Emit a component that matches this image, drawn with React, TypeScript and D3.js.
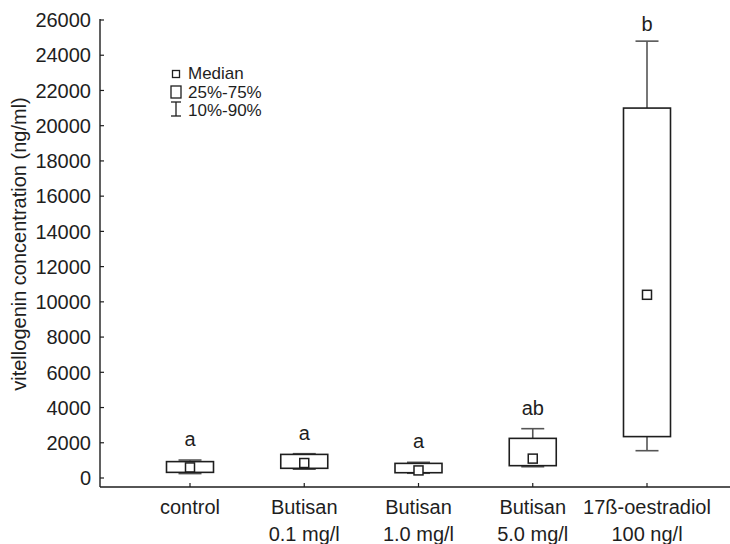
import { useMemo } from "react"
import * as d3 from "d3"

// groups on the x axis (two-line labels)
const groups = ["control", "Butisan 0.1", "Butisan 1.0", "Butisan 5.0", "17ß-oestradiol"]
const labelLine1 = ["control", "Butisan", "Butisan", "Butisan", "17ß-oestradiol"]
const labelLine2 = ["", "0.1 mg/l", "1.0 mg/l", "5.0 mg/l", "100 ng/l"]

// box statistics (ng/ml)
const p10 = [250, 500, 270, 640, 1550]
const q1 = [320, 550, 300, 700, 2350]
const median = [600, 850, 430, 1100, 10400]
const q3 = [930, 1340, 830, 2250, 21000]
const p90 = [1020, 1380, 890, 2800, 24800]
const letters = ["a", "a", "a", "ab", "b"]

const yTicks = d3.range(0, 26001, 2000)

const W = 730
const H = 544
const FONT = "'Liberation Sans', Arial, Helvetica, sans-serif"
const INK = "#1e1e1e"
const WHISK = "#555"

export default function App() {
  const x = useMemo(() => d3.scalePoint<string>().domain(groups).range([190, 647]), [])
  const y = useMemo(() => d3.scaleLinear().domain([0, 26000]).range([478, 20]), [])

  const axisX = 100
  const axisY = 487
  const boxW = 47
  const capW = 23
  const med = 9
  const fs = 20

  return (
    <svg
      width={W}
      height={H}
      style={{ position: "absolute", left: 0, top: 0, background: "#fff" }}
      fontFamily={FONT}
    >
      {/* axes */}
      <line x1={axisX} x2={axisX} y1={y(26000) - 1} y2={axisY} stroke={INK} strokeWidth={1.4} />
      <line x1={axisX} x2={W} y1={axisY} y2={axisY} stroke={INK} strokeWidth={1.4} />

      {yTicks.map((t) => (
        <g key={t}>
          <line x1={axisX} x2={axisX + 4} y1={y(t)} y2={y(t)} stroke={INK} strokeWidth={1.2} />
          <text x={91} y={y(t)} dy="0.36em" textAnchor="end" fontSize={fs} fill={INK}>
            {t}
          </text>
        </g>
      ))}

      {groups.map((g, i) => (
        <g key={g}>
          <line x1={x(g)} x2={x(g)} y1={axisY} y2={axisY - 4} stroke={INK} strokeWidth={1.2} />
          <text x={x(g)} y={514} textAnchor="middle" fontSize={fs} fill={INK}>
            {labelLine1[i]}
          </text>
          <text x={x(g)} y={541} textAnchor="middle" fontSize={fs} fill={INK}>
            {labelLine2[i]}
          </text>
        </g>
      ))}

      <text
        transform="translate(26,244) rotate(-90)"
        textAnchor="middle"
        fontSize={fs}
        fill={INK}
      >
        vitellogenin concentration (ng/ml)
      </text>

      {/* boxes */}
      {groups.map((g, i) => {
        const cx = x(g) as number
        return (
          <g key={g}>
            <line x1={cx} x2={cx} y1={y(p90[i])} y2={y(q3[i])} stroke={WHISK} strokeWidth={1.6} />
            <line x1={cx} x2={cx} y1={y(q1[i])} y2={y(p10[i])} stroke={WHISK} strokeWidth={1.6} />
            <line x1={cx - capW / 2} x2={cx + capW / 2} y1={y(p90[i])} y2={y(p90[i])} stroke={WHISK} strokeWidth={1.6} />
            <line x1={cx - capW / 2} x2={cx + capW / 2} y1={y(p10[i])} y2={y(p10[i])} stroke={WHISK} strokeWidth={1.6} />
            <rect
              x={cx - boxW / 2}
              y={y(q3[i])}
              width={boxW}
              height={y(q1[i]) - y(q3[i])}
              fill="#fff"
              stroke={INK}
              strokeWidth={1.6}
            />
            <rect
              x={cx - med / 2}
              y={y(median[i]) - med / 2}
              width={med}
              height={med}
              fill="#fff"
              stroke={INK}
              strokeWidth={1.5}
            />
            <text
              x={cx}
              y={Math.max(y(p90[i]) - 14, 31)}
              textAnchor="middle"
              fontSize={fs}
              fill={INK}
            >
              {letters[i]}
            </text>
          </g>
        )
      })}

      {/* legend */}
      <rect x={172.5} y={70.5} width={7} height={7} fill="#fff" stroke={INK} strokeWidth={1.3} />
      <text x={188} y={79} fontSize={17} fill={INK}>Median</text>
      <rect x={171} y={86} width={10} height={12} fill="#fff" stroke={INK} strokeWidth={1.3} />
      <text x={188} y={97.5} fontSize={17} fill={INK}>25%-75%</text>
      <line x1={176} x2={176} y1={102} y2={116} stroke={INK} strokeWidth={1.3} />
      <line x1={171} x2={181} y1={102} y2={102} stroke={INK} strokeWidth={1.3} />
      <line x1={171} x2={181} y1={116} y2={116} stroke={INK} strokeWidth={1.3} />
      <text x={188} y={116} fontSize={17} fill={INK}>10%-90%</text>
    </svg>
  )
}
